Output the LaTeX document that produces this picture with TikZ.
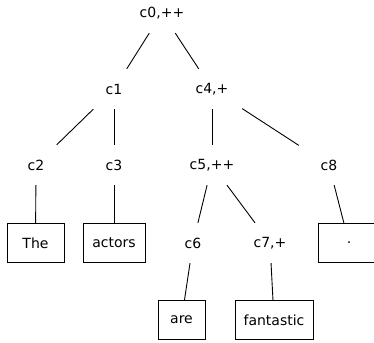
\documentclass[tikz,border=0pt]{standalone}
\usepackage{fontspec}
\setmainfont{DejaVu Sans}
\usepackage{tikz}
\usetikzlibrary{positioning}

\tikzstyle{inner} = [rectangle, minimum width=60pt, minimum height=40pt, text centered, font=\fontsize{14}{16}\selectfont]
\tikzstyle{word} = [rectangle, minimum height=39pt, text centered, draw=black, line width=0.9pt, font=\fontsize{14}{16}\selectfont]
\tikzstyle{edge} = [line width=0.9pt]

\begin{document}
\begin{tikzpicture}[node distance=76pt]
  \useasboundingbox (0,0) rectangle (374pt,-342pt);

  \node (c0) [inner] at (162pt,-13pt) {c0,++};
  \node (c1) [inner, below of=c0, xshift=-48pt] {c1};
  \node (c4) [inner, below of=c0, xshift=50pt] {c4,+};
  \node (c2) [inner, below of=c1, xshift=-78pt] {c2};
  \node (c3) [inner, below of=c1] {c3};
  \node (c5) [inner, below of=c4] {c5,++};
  \node (c8) [inner, below of=c4, xshift=117pt] {c8};
  \node (c6) [inner, below of=c5, xshift=-19pt, yshift=-2pt] {c6};
  \node (c7) [inner, below of=c5, xshift=58pt, yshift=-2pt] {c7,+};

  \node (the) [word, minimum width=57pt, below of=c2, xshift=-0.5pt, yshift=-2pt] {The};
  \node (actors) [word, minimum width=62pt, below of=c3, yshift=-2pt] {actors};
  \node (dot) [word, minimum width=62pt, below of=c8, xshift=20pt, yshift=-2pt] {.};
  \node (are) [word, minimum width=47pt, below of=c6, xshift=-11.5pt, yshift=-1pt] {are};
  \node (fantastic) [word, minimum width=78pt, below of=c7, xshift=4pt, yshift=-1pt] {fantastic};

  \draw [edge] (c0) -- (c1);
  \draw [edge] (c0) -- (c4);
  \draw [edge] (c1) -- (c2);
  \draw [edge] (c1) -- (c3);
  \draw [edge] (c4) -- (c5);
  \draw [edge] (c4) -- (c8);
  \draw [edge] (c2) -- (the);
  \draw [edge] (c3) -- (actors);
  \draw [edge] (c5) -- (c6);
  \draw [edge] (c5) -- (c7);
  \draw [edge] (c8) -- (dot);
  \draw [edge] (c6) -- (are);
  \draw [edge] (c7) -- (fantastic);
\end{tikzpicture}
\end{document}
